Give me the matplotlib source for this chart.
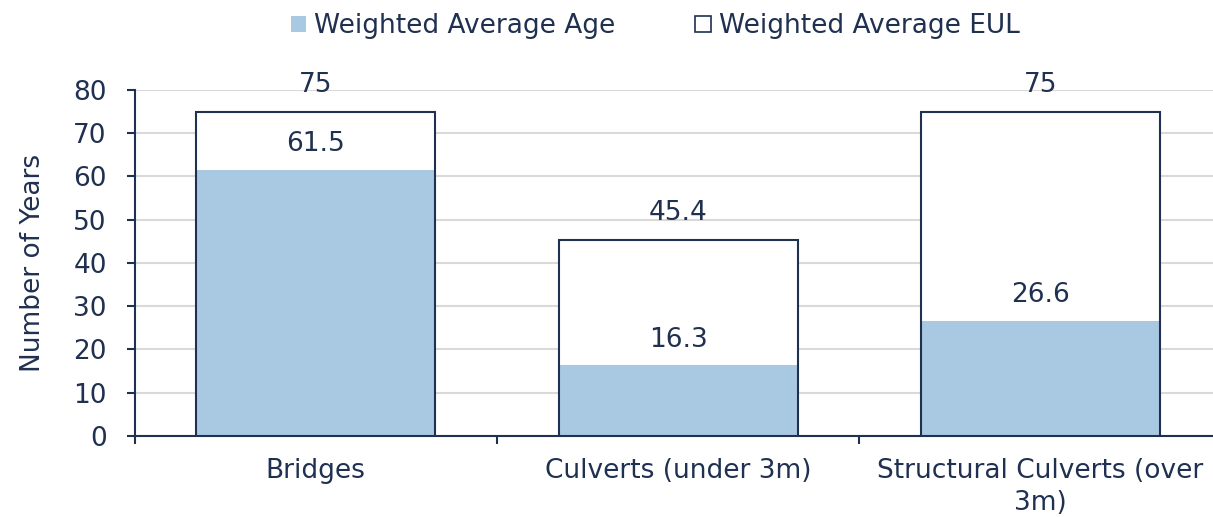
import matplotlib.pyplot as plt
from matplotlib.patches import Patch

# Data
categories = ["Bridges", "Culverts (under 3m)", "Structural Culverts (over\n3m)"]
avg_age = [61.5, 16.3, 26.6]
avg_eul = [75, 45.4, 75]

navy = "#1F3050"
blue = "#A9C8E2"
fs = 19

plt.rcParams["font.family"] = ["DejaVu Sans"]
fig = plt.figure(figsize=(12.13, 5.17), dpi=100)
ax = fig.add_axes([0.111, 0.157, 0.896, 0.669])

x = range(len(categories))
w = 0.66
# white fill for EUL, then age, then EUL outline on top
ax.bar(x, avg_eul, width=w, color="white", zorder=2)
ax.bar(x, avg_age, width=w, color=blue, zorder=3)
ax.bar(x, avg_eul, width=w, facecolor="none", edgecolor=navy, linewidth=1.5, zorder=4)

for i in x:
    ax.annotate(f"{avg_eul[i]:g}", (i, avg_eul[i]), xytext=(0, 19), textcoords="offset points",
                ha="center", va="center", fontsize=fs, color=navy)
    ax.annotate(f"{avg_age[i]:g}", (i, avg_age[i]), xytext=(0, 18.5), textcoords="offset points",
                ha="center", va="center", fontsize=fs, color=navy)

ax.set_xlim(-0.5, 2.5)
ax.set_ylim(0, 80)
ax.set_yticks(range(0, 81, 10))
ax.set_xticks([-0.5, 0.5, 1.5, 2.5])
ax.set_xticklabels([])
ax.set_xticks(list(x), minor=True)
ax.set_xticklabels(categories, minor=True, fontsize=fs, color=navy, linespacing=1.3)
ax.tick_params(axis="x", which="minor", length=0, pad=16)
ax.tick_params(axis="x", which="major", length=6, width=1.5, color=navy)
ax.tick_params(axis="y", length=6, width=1.5, color=navy, labelsize=fs, labelcolor=navy, pad=14)
ax.yaxis.grid(True, color="#D9D9D9", linewidth=1.5, zorder=0)
ax.set_axisbelow(True)
for s in ["top", "right"]:
    ax.spines[s].set_visible(False)
for s in ["left", "bottom"]:
    ax.spines[s].set_color(navy)
    ax.spines[s].set_linewidth(1.5)
ax.set_ylabel("Number of Years", fontsize=fs, color=navy, labelpad=20)

handles = [Patch(facecolor=blue, edgecolor="none", label="Weighted Average Age"),
           Patch(facecolor="white", edgecolor=navy, linewidth=1.2, label="Weighted Average EUL")]
leg = fig.legend(handles=handles, loc="upper center", bbox_to_anchor=(0.54, 1.02), ncol=2,
                 frameon=False, fontsize=fs, handlelength=0.6, handleheight=0.6,
                 handletextpad=0.3, columnspacing=3.0)
for t in leg.get_texts():
    t.set_color(navy)

fig.savefig("out.png", dpi=100)
